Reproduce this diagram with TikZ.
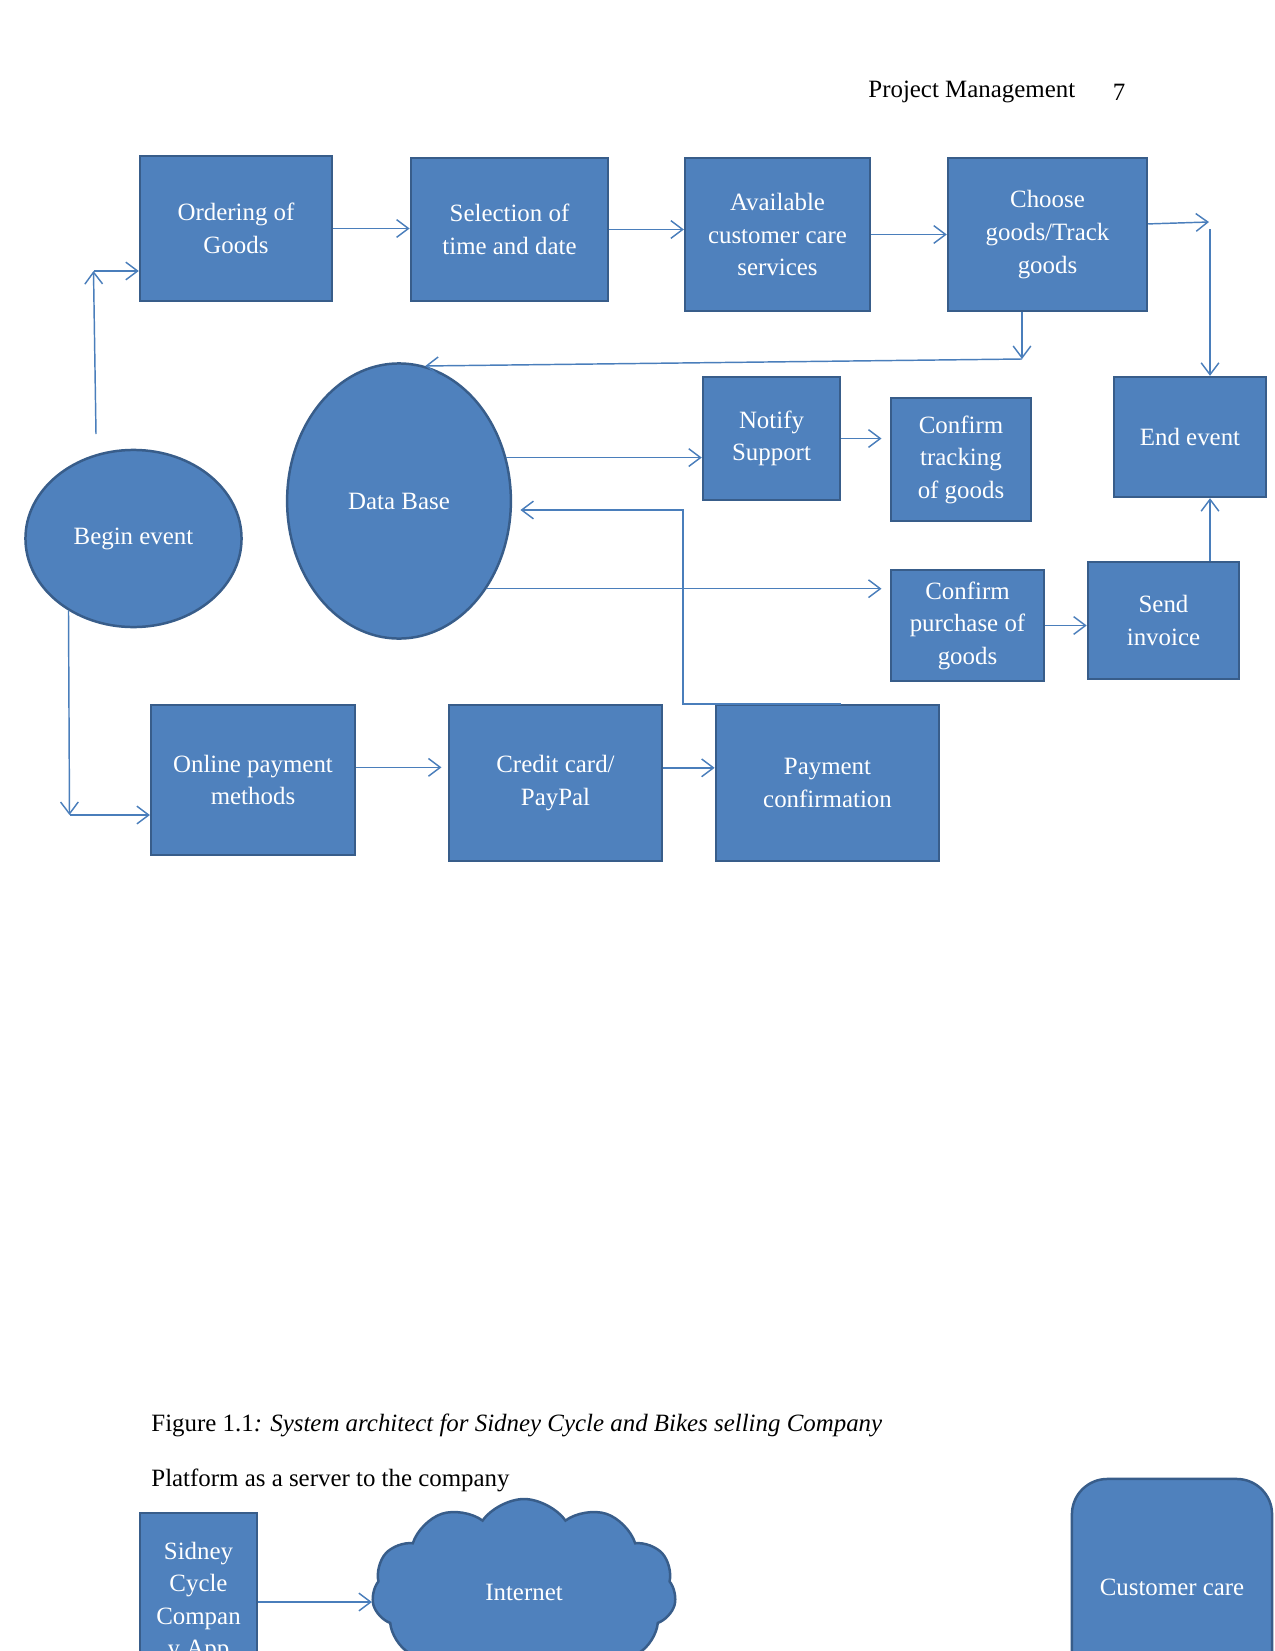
\documentclass[tikz,border=0pt]{standalone}
\usepackage{fontspec}
\setmainfont{Liberation Serif}
\usetikzlibrary{arrows.meta,shapes.geometric,shapes.symbols,calc}
\definecolor{fillblue}{HTML}{4F81BD}
\definecolor{rimblue}{HTML}{385D8A}
\definecolor{lineblue}{HTML}{4A7EBB}

\begin{document}
\begin{tikzpicture}[x=0.016933cm,y=-0.016933cm,>={Straight Barb[length=2mm,width=3mm]},
  every node/.style={inner sep=0pt,font=\fontsize{12}{15.7}\selectfont},
  box/.style={draw=rimblue,fill=fillblue,line width=1.2pt,text=white,align=center},
  blob/.style={box,ellipse},
  link/.style={color=lineblue,line width=0.7pt}]
\useasboundingbox (0,0) rectangle (1275,1651);
\clip (0,0) rectangle (1275,1651);
\node[anchor=west] (hd) at (868,92) {Project Management};
\node (pg) at (1119,92) {7};
\node[box,minimum width=3.25cm,minimum height=2.46cm] (ord) at (236,228.5) {Ordering of\\Goods};
\node[box,minimum width=3.34cm,minimum height=2.42cm] (sel) at (509.5,229.5) {Selection of\\time and date};
\node[box,minimum width=3.13cm,minimum height=2.59cm] (avl) at (777.5,234.5) {Available\\customer care\\services};
\node[box,minimum width=3.37cm,minimum height=2.59cm] (chs) at (1047.5,234.5) {Choose\\goods/Track\\goods};
\node[blob,minimum width=3.66cm,minimum height=3cm] (beg) at (133.5,538.5) {Begin event};
\node[blob,minimum width=3.79cm,minimum height=4.66cm] (db) at (399,501) {Data Base};
\node[box,minimum width=2.32cm,minimum height=2.08cm] (ntf) at (771.5,438.5) {Notify\\Support};
\node[box,minimum width=2.37cm,minimum height=2.08cm] (trk) at (961,459.5) {Confirm\\tracking\\of goods};
\node[box,minimum width=2.57cm,minimum height=2.03cm] (endev) at (1190,437) {End event};
\node[box,minimum width=2.59cm,minimum height=1.88cm] (buy) at (967.5,625.5) {Confirm\\purchase of\\goods};
\node[box,minimum width=2.56cm,minimum height=1.98cm] (inv) at (1163.5,620.5) {Send\\invoice};
\node[box,minimum width=3.45cm,minimum height=2.54cm] (onl) at (253,780) {Online payment\\methods};
\node[box,minimum width=3.61cm,minimum height=2.64cm] (card) at (555.5,783) {Credit card/\\PayPal};
\node[box,minimum width=3.78cm,minimum height=2.64cm] (pay) at (827.5,783) {Payment\\confirmation};
\coordinate (b1) at (96,434);
\coordinate (b2) at (93.5,271);
\coordinate (b3) at (69.5,815);
\coordinate (r1) at (1209,222);
\coordinate (r2) at (1210,229);
\coordinate (d1) at (1022,359);
\coordinate (p2) at (683,510);
\path[link,->] (b1) edge (b2);
\path[link,->] (b2) edge (b2 -| ord.west);
\path[link,->] (beg.-132) edge (b3);
\path[link,->] (b3) edge (b3 -| onl.west);
\path[link,->] (ord.east) edge (ord.east -| sel.west);
\path[link,->] (sel.east) edge (sel.east -| avl.west);
\path[link,->] (avl.east) edge (avl.east -| chs.west);
\path[link,->] (chs.6) edge (r1);
\path[link,->] (r2) edge (r2 |- endev.north);
\path[link,->] (d1 |- chs.south) edge (d1);
\path[link,->] (d1) edge (db.79);
\path[link,->] (db.22) edge (db.22 -| ntf.west);
\path[link,->,shorten >=4pt] (ntf.east) edge (ntf.east -| trk.west);
\path[link,->,shorten >=4pt] (db.-45) edge (db.-45 -| buy.west);
\path[link,->] (buy.east) edge (buy.east -| inv.west);
\path[link,->] (r2 |- inv.north) edge (r2 |- endev.south);
\draw[link,->,shorten >=4pt] (pay.80) -| (p2) -- (p2 -| db.east);
\path[link,->,shorten >=3pt] (onl.7) edge (onl.7 -| card.west);
\path[link,->] (card.8) edge (card.8 -| pay.west);
\node[anchor=west] (cap) at (151,1425) {Figure 1.1\textit{: System architect for Sidney Cycle and Bikes selling Company}};
\node[anchor=west] (plt) at (151,1480) {Platform as a server to the company};
\node[box,minimum width=1.98cm,minimum height=3.01cm] (app) at (198.5,1602) {Sidney\\Cycle\\Compan\\y App};
\node[box,cloud,cloud puffs=11,cloud puff arc=110,cloud ignores aspect,minimum width=5.15cm,minimum height=3.15cm] (net) at (524,1592) {Internet};
\node[box,rounded corners=0.6cm,minimum width=3.39cm,minimum height=3.66cm] (care) at (1172,1587) {Customer care};
\path[link,->] (app.east) edge (app.east -| net.west);
\end{tikzpicture}
\end{document}
